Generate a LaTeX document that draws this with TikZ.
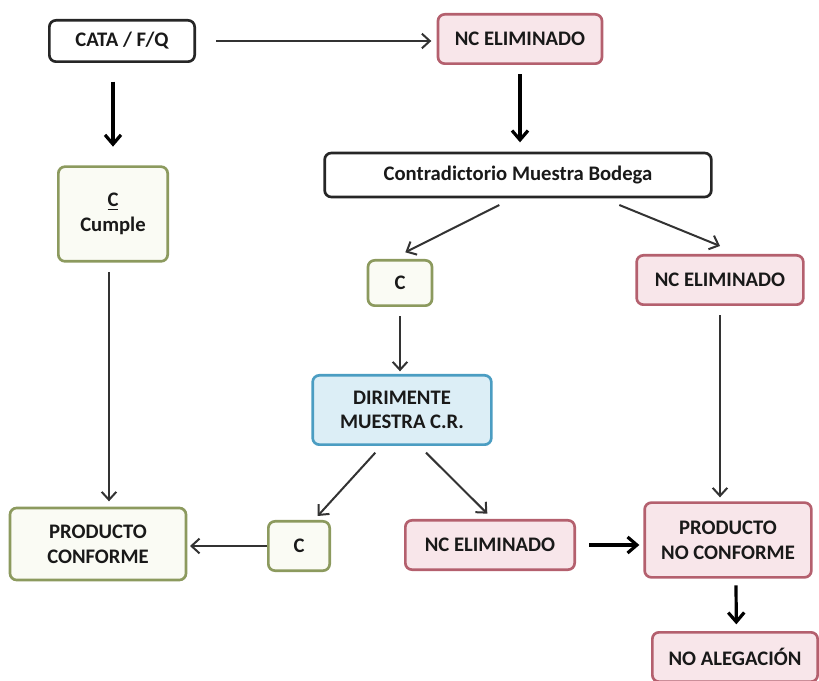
\documentclass[tikz,border=0pt]{standalone}
\usepackage{fontspec}
\setmainfont{Carlito}
\usetikzlibrary{arrows.meta}

\definecolor{pinkfill}{HTML}{F8E6EA}
\definecolor{pinkline}{HTML}{B4606E}
\definecolor{greenline}{HTML}{8C9A5E}
\definecolor{greenfill}{HTML}{FAFBF4}
\definecolor{blueline}{HTML}{4B9DC2}
\definecolor{bluefill}{HTML}{DCEEF6}

\begin{document}
\begin{tikzpicture}[x=0.75pt,y=-0.75pt,
  box/.style={rounded corners=5pt,line width=2pt,align=center,
    font=\fontsize{15.5}{18.5}\selectfont\bfseries,inner sep=2pt,text=black!90},
  blackbox/.style={box,draw=black!85,fill=white},
  nobox/.style={box,draw=pinkline,fill=pinkfill},
  okbox/.style={box,draw=greenline,fill=greenfill},
  dirbox/.style={box,draw=blueline,fill=bluefill},
  thin/.style={-{Straight Barb[length=6pt,width=11pt]},line width=1.5pt,draw=black!80},
  thick/.style={-{Straight Barb[length=7pt,width=12pt]},line width=2.4pt,draw=black}]
  \useasboundingbox (0,0) rectangle (819,681);
  \node[blackbox,minimum width=109pt,minimum height=31pt] (cata) at (122,41) {CATA / F/Q};
  \node[nobox,minimum width=123pt,minimum height=37pt] (nc1) at (520,39) {NC ELIMINADO};
  \node[okbox,minimum width=82pt,minimum height=71pt] (cumple) at (113,214) {\underline{C}\\Cumple};
  \node[blackbox,minimum width=290pt,minimum height=33pt] (contra) at (518,175) {Contradictorio Muestra Bodega};
  \node[okbox,minimum width=48pt,minimum height=34pt] (c1) at (400,283) {C};
  \node[nobox,minimum width=125pt,minimum height=37pt] (nc2) at (720,280) {NC ELIMINADO};
  \node[dirbox,minimum width=134pt,minimum height=52pt] (dir) at (402,410) {DIRIMENTE\\MUESTRA C.R.};
  \node[okbox,minimum width=132pt,minimum height=54pt] (pc) at (98,544) {PRODUCTO\\CONFORME};
  \node[okbox,minimum width=46pt,minimum height=37pt] (c2) at (299,546) {C};
  \node[nobox,minimum width=127pt,minimum height=37pt] (nc3) at (490,545) {NC ELIMINADO};
  \node[nobox,minimum width=125pt,minimum height=56pt] (pnc) at (728,540) {PRODUCTO\\NO CONFORME};
  \node[nobox,minimum width=124pt,minimum height=37pt] (noal) at (735,657) {NO ALEGACIÓN};

  \draw[thin] ([xshift=15pt]cata.east) -- ([xshift=-4pt]nc1.west |- cata.east);
  \draw[thick] ([yshift=-14pt]cata.south -| cumple.north) -- ([yshift=14pt]cumple.north);
  \draw[thick] ([yshift=-7pt]nc1.south) -- ([yshift=7pt]nc1.south |- contra.north);
  \draw[thin] ([xshift=-14pt,yshift=-5pt]contra.south) -- ([xshift=4pt,yshift=5pt]c1.north);
  \draw[thin] ([xshift=76pt,yshift=-5pt]contra.south) -- ([yshift=6pt]nc2.north);
  \draw[thin] ([xshift=-3pt,yshift=-7pt]cumple.south) -- ([xshift=-3pt,yshift=4pt]cumple.south |- pc.north);
  \draw[thin] ([yshift=-7pt]c1.south) -- ([yshift=2pt]c1.south |- dir.north);
  \draw[thin] ([yshift=-7pt]nc2.south) -- ([yshift=3pt]nc2.south |- pnc.north);
  \draw[thin] ([xshift=-20pt,yshift=-5pt]dir.south) -- ([xshift=14pt,yshift=3pt]c2.north);
  \draw[thin] ([xshift=18pt,yshift=-5pt]dir.south) -- ([xshift=-2pt,yshift=4pt]nc3.north);
  \draw[thin] (c2.west) -- ([xshift=2pt]pc.east |- c2.west);
  \draw[thick] ([xshift=10pt]nc3.east) -- ([xshift=-3pt]pnc.west |- nc3.east);
  \draw[thick] ([xshift=6pt,yshift=-5pt]pnc.south) -- ([xshift=1pt,yshift=5pt]noal.north);
\end{tikzpicture}
\end{document}
